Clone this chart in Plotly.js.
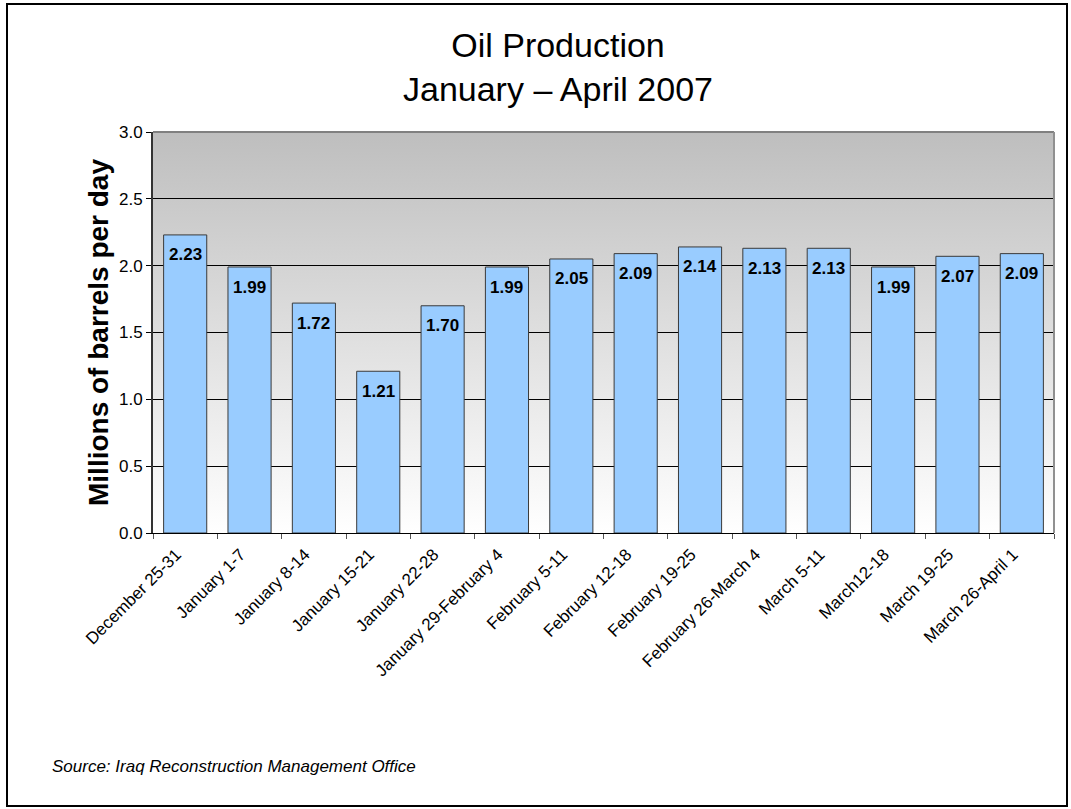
<!DOCTYPE html>
<html>
<head>
<meta charset="utf-8">
<script src="https://cdn.plot.ly/plotly-3.0.1.min.js"></script>
<style>
  html, body { margin: 0; padding: 0; background: #fff; }
  #chart { width: 1071px; height: 809px; position: relative; }
  #frame { position: absolute; left: 6px; top: 3px; width: 1062px; height: 804px;
           border: 2px solid #000; pointer-events: none; box-sizing: border-box; }
</style>
</head>
<body>
<div id="chart"></div>
<div id="frame"></div>
<script>
const categories = [
  "December 25-31", "January 1-7", "January 8-14", "January 15-21", "January 22-28",
  "January 29-February 4", "February 5-11", "February 12-18", "February 19-25",
  "February 26-March 4", "March 5-11", "March12-18", "March 19-25", "March 26-April 1"
];
const production = [2.23, 1.99, 1.72, 1.21, 1.70, 1.99, 2.05, 2.09, 2.14, 2.13, 2.13, 1.99, 2.07, 2.09];
const yTicks = [0, 0.5, 1.0, 1.5, 2.0, 2.5, 3.0];

const FONT = "Liberation Sans, Arial, sans-serif";

const gradSvg = "<svg xmlns='http://www.w3.org/2000/svg' width='10' height='100' preserveAspectRatio='none'>" +
  "<defs><linearGradient id='g' x1='0' y1='0' x2='0' y2='1'>" +
  "<stop offset='0' stop-color='#BEBEBE'/><stop offset='1' stop-color='#FFFFFF'/>" +
  "</linearGradient></defs><rect width='10' height='100' fill='url(#g)'/></svg>";
const gradUri = "data:image/svg+xml;charset=utf-8," + encodeURIComponent(gradSvg);

const trace = {
  type: "bar",
  x: categories,
  y: production,
  marker: { color: "#99CCFF", line: { color: "#3a3a3a", width: 1 } },
  width: 0.67,
  hoverinfo: "x+y"
};

const labelAnnotations = categories.map((c, i) => ({
  x: c, y: production[i], xref: "x", yref: "y",
  text: "<b>" + production[i].toFixed(2) + "</b>",
  showarrow: false, yanchor: "middle", yshift: -20,
  font: { family: FONT, size: 17, color: "#000" }
}));

labelAnnotations.push({
  xref: "paper", yref: "paper", x: -0.1143, y: -0.5835,
  xanchor: "left", yanchor: "middle", showarrow: false,
  text: "<i>Source: Iraq Reconstruction Management Office</i>",
  font: { family: FONT, size: 17, color: "#000" }
});

const layout = {
  width: 1071, height: 809,
  margin: { l: 153, r: 17, t: 132, b: 276 },
  paper_bgcolor: "#ffffff",
  plot_bgcolor: "rgba(0,0,0,0)",
  font: { family: FONT, color: "#000" },
  showlegend: false,
  title: {
    text: "Oil Production<br>January – April 2007",
    font: { family: FONT, size: 34, color: "#000" },
    xref: "container", x: 0.521, xanchor: "center",
    yref: "container", y: 1 - 57 / 809, yanchor: "top"
  },
  xaxis: {
    type: "category",
    tickson: "boundaries",
    ticks: "outside", ticklen: 5, tickcolor: "#555", tickwidth: 1,
    showline: true, linecolor: "#000", linewidth: 1,
    showgrid: false, zeroline: false,
    tickangle: -45,
    ticklabelshift: -9,
    ticklabelstandoff: 4,
    tickfont: { family: FONT, size: 17, color: "#000" },
    fixedrange: true
  },
  yaxis: {
    range: [0, 3],
    tickvals: yTicks,
    ticktext: yTicks.map(v => v.toFixed(1)),
    ticks: "outside", ticklen: 5, tickcolor: "#000", tickwidth: 1,
    showline: true, linecolor: "#333", linewidth: 2,
    showgrid: true, gridcolor: "#000", gridwidth: 1,
    zeroline: false,
    tickfont: { family: FONT, size: 17, color: "#000" },
    title: { text: "<b>Millions of barrels per day</b>", font: { family: FONT, size: 28, color: "#000" }, standoff: 2 },
    fixedrange: true
  },
  images: [{
    source: gradUri, xref: "paper", yref: "paper",
    x: 0, y: 1, sizex: 1, sizey: 1, xanchor: "left", yanchor: "top",
    sizing: "stretch", layer: "below"
  }],
  shapes: [
    { type: "line", xref: "paper", yref: "paper", x0: 0, x1: 1, y0: 1, y1: 1,
      line: { color: "#808080", width: 2 }, layer: "above" },
    { type: "line", xref: "paper", yref: "paper", x0: 1, x1: 1, y0: 0, y1: 1,
      line: { color: "#909090", width: 2 }, layer: "above" }
  ],
  annotations: labelAnnotations
};

Plotly.newPlot("chart", [trace], layout, { displayModeBar: false, staticPlot: true });
</script>
</body>
</html>
